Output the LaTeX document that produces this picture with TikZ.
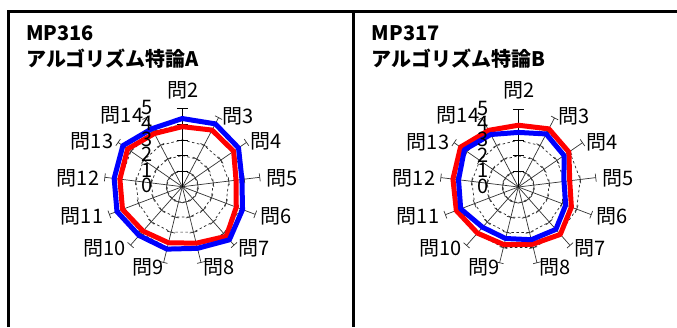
\documentclass[tikz,border=0pt]{standalone}
\usepackage{fontspec}
\setmainfont{Noto Sans CJK JP}
\definecolor{serred}{RGB}{255,0,0}
\definecolor{serblue}{RGB}{0,0,255}
\tikzset{
  spoke/.style={draw=black!80, line width=0.7pt},
  mainaxis/.style={draw=black, line width=1pt},
  gridring/.style={draw=black!85, line width=0.7pt, dash pattern=on 2.5pt off 2.5pt},
  tickmark/.style={draw=black!80, line width=0.7pt},
  redser/.style={draw=serred, line width=5pt, line join=round},
  blueser/.style={draw=serblue, line width=5pt, line join=round},
  qlabel/.style={font=\fontsize{20}{20}\selectfont, inner sep=0pt},
  vlabel/.style={font=\fontsize{20}{20}\selectfont, inner sep=0pt, anchor=east},
  titletext/.style={font=\fontsize{20}{24}\selectfont\bfseries, inner sep=0pt, anchor=base west},
  framestyle/.style={line width=3pt, draw=black},
}
\def\u{15.6}
\def\ang{27.6923}
% #1 cx, #2 cy, #3 red values, #4 blue values, #5 prefix
\newcommand{\myradar}[5]{%
\begin{scope}[shift={(#1,#2)}]
  \coordinate (#5c) at (0,0);
  \foreach \L in {1,...,4} {
    \draw[gridring] (-90:\L*\u) \foreach \k in {1,...,12} { -- (-90+\k*\ang:\L*\u) } -- cycle;
  }
  \foreach \k in {1,...,12} {
    \draw[spoke] (#5c) -- (-90+\k*\ang:5*\u) coordinate (#5e\k);
    \foreach \L in {1,...,5} {
      \draw[tickmark] (-90+\k*\ang:\L*\u) ++(\k*\ang:4) -- ++(180+\k*\ang:8);
    }
  }
  \draw[mainaxis] (#5c) -- (-90:5*\u) coordinate (#5e0);
  \foreach \L in {1,...,5} {
    \draw[mainaxis, line width=0.8pt] (-5.5,-\L*\u) -- (5.5,-\L*\u);
  }
  \foreach \v [count=\k from 0] in {#3} \coordinate (#5r\k) at (-90+\k*\ang:\v*\u);
  \foreach \v [count=\k from 0] in {#4} \coordinate (#5b\k) at (-90+\k*\ang:\v*\u);
  \draw[redser] (#5r0) -- (#5r1) -- (#5r2) -- (#5r3) -- (#5r4) -- (#5r5) -- (#5r6) -- (#5r7) -- (#5r8) -- (#5r9) -- (#5r10) -- (#5r11) -- (#5r12) -- cycle;
  \draw[blueser] (#5b0) -- (#5b1) -- (#5b2) -- (#5b3) -- (#5b4) -- (#5b5) -- (#5b6) -- (#5b7) -- (#5b8) -- (#5b9) -- (#5b10) -- (#5b11) -- (#5b12) -- cycle;
  \foreach \L in {0,...,5} {
    \node[vlabel] (#5v\L) at (-29.5,-\L*\u-1) {\L};
  }
  \node[qlabel] (#5q2) at (0.7,-96.7) {問2};
  \node[qlabel, anchor=west] (#5q3) at (40.4,-70.7) {問3};
  \node[qlabel, anchor=west] (#5q4) at (68.4,-45) {問4};
  \node[qlabel, anchor=west] (#5q5) at (84.4,-8.7) {問5};
  \node[qlabel, anchor=west] (#5q6) at (77.7,29.3) {問6};
  \node[qlabel, anchor=west] (#5q7) at (55.7,61.3) {問7};
  \node[qlabel, anchor=west] (#5q8) at (20.7,80.8) {問8};
  \node[qlabel, anchor=east] (#5q9) at (-19,80.8) {問9};
  \node[qlabel, anchor=east] (#5q10) at (-56.3,61.3) {問10};
  \node[qlabel, anchor=east] (#5q11) at (-79,29.3) {問11};
  \node[qlabel, anchor=east] (#5q12) at (-83,-8.7) {問12};
  \node[qlabel, anchor=east] (#5q13) at (-69,-45) {問13};
  \node[qlabel, anchor=east] (#5q14) at (-39,-71.2) {問14};
\end{scope}}
\begin{document}
\begin{tikzpicture}[x=1pt,y=-1pt]
  \useasboundingbox (0,0) rectangle (677,327);
  \fill[white] (0,0) rectangle (677,327);
  \draw[framestyle] (8,327) -- (8,11.7) -- (677,11.7);
  \draw[framestyle] (353.3,11.7) -- (353.3,327);
  \node[titletext] (ta1) at (26,40) {MP316};
  \node[titletext] (ta2) at (26,66.5) {アルゴリズム特論A};
  \node[titletext] (tb1) at (371.7,40.5) {MP317};
  \node[titletext] (tb2) at (371.7,66.5) {アルゴリズム特論B};
  \myradar{182.3}{186.7}{3.85,4.1,4.0,3.47,3.7,4.25,3.73,3.7,3.8,4.1,4.03,4.26,3.85}{4.37,4.55,4.38,3.85,4.13,4.55,4.07,4.12,4.18,4.48,4.4,4.63,4.2}{A}
  \myradar{518.3}{187}{3.96,4.21,3.94,3.32,3.64,4.06,3.78,3.81,3.95,4.25,4.22,4.5,4.1}{3.5,3.84,3.56,2.95,3.25,3.63,3.48,3.4,3.45,3.95,3.86,4.2,3.8}{B}
\end{tikzpicture}
\end{document}
